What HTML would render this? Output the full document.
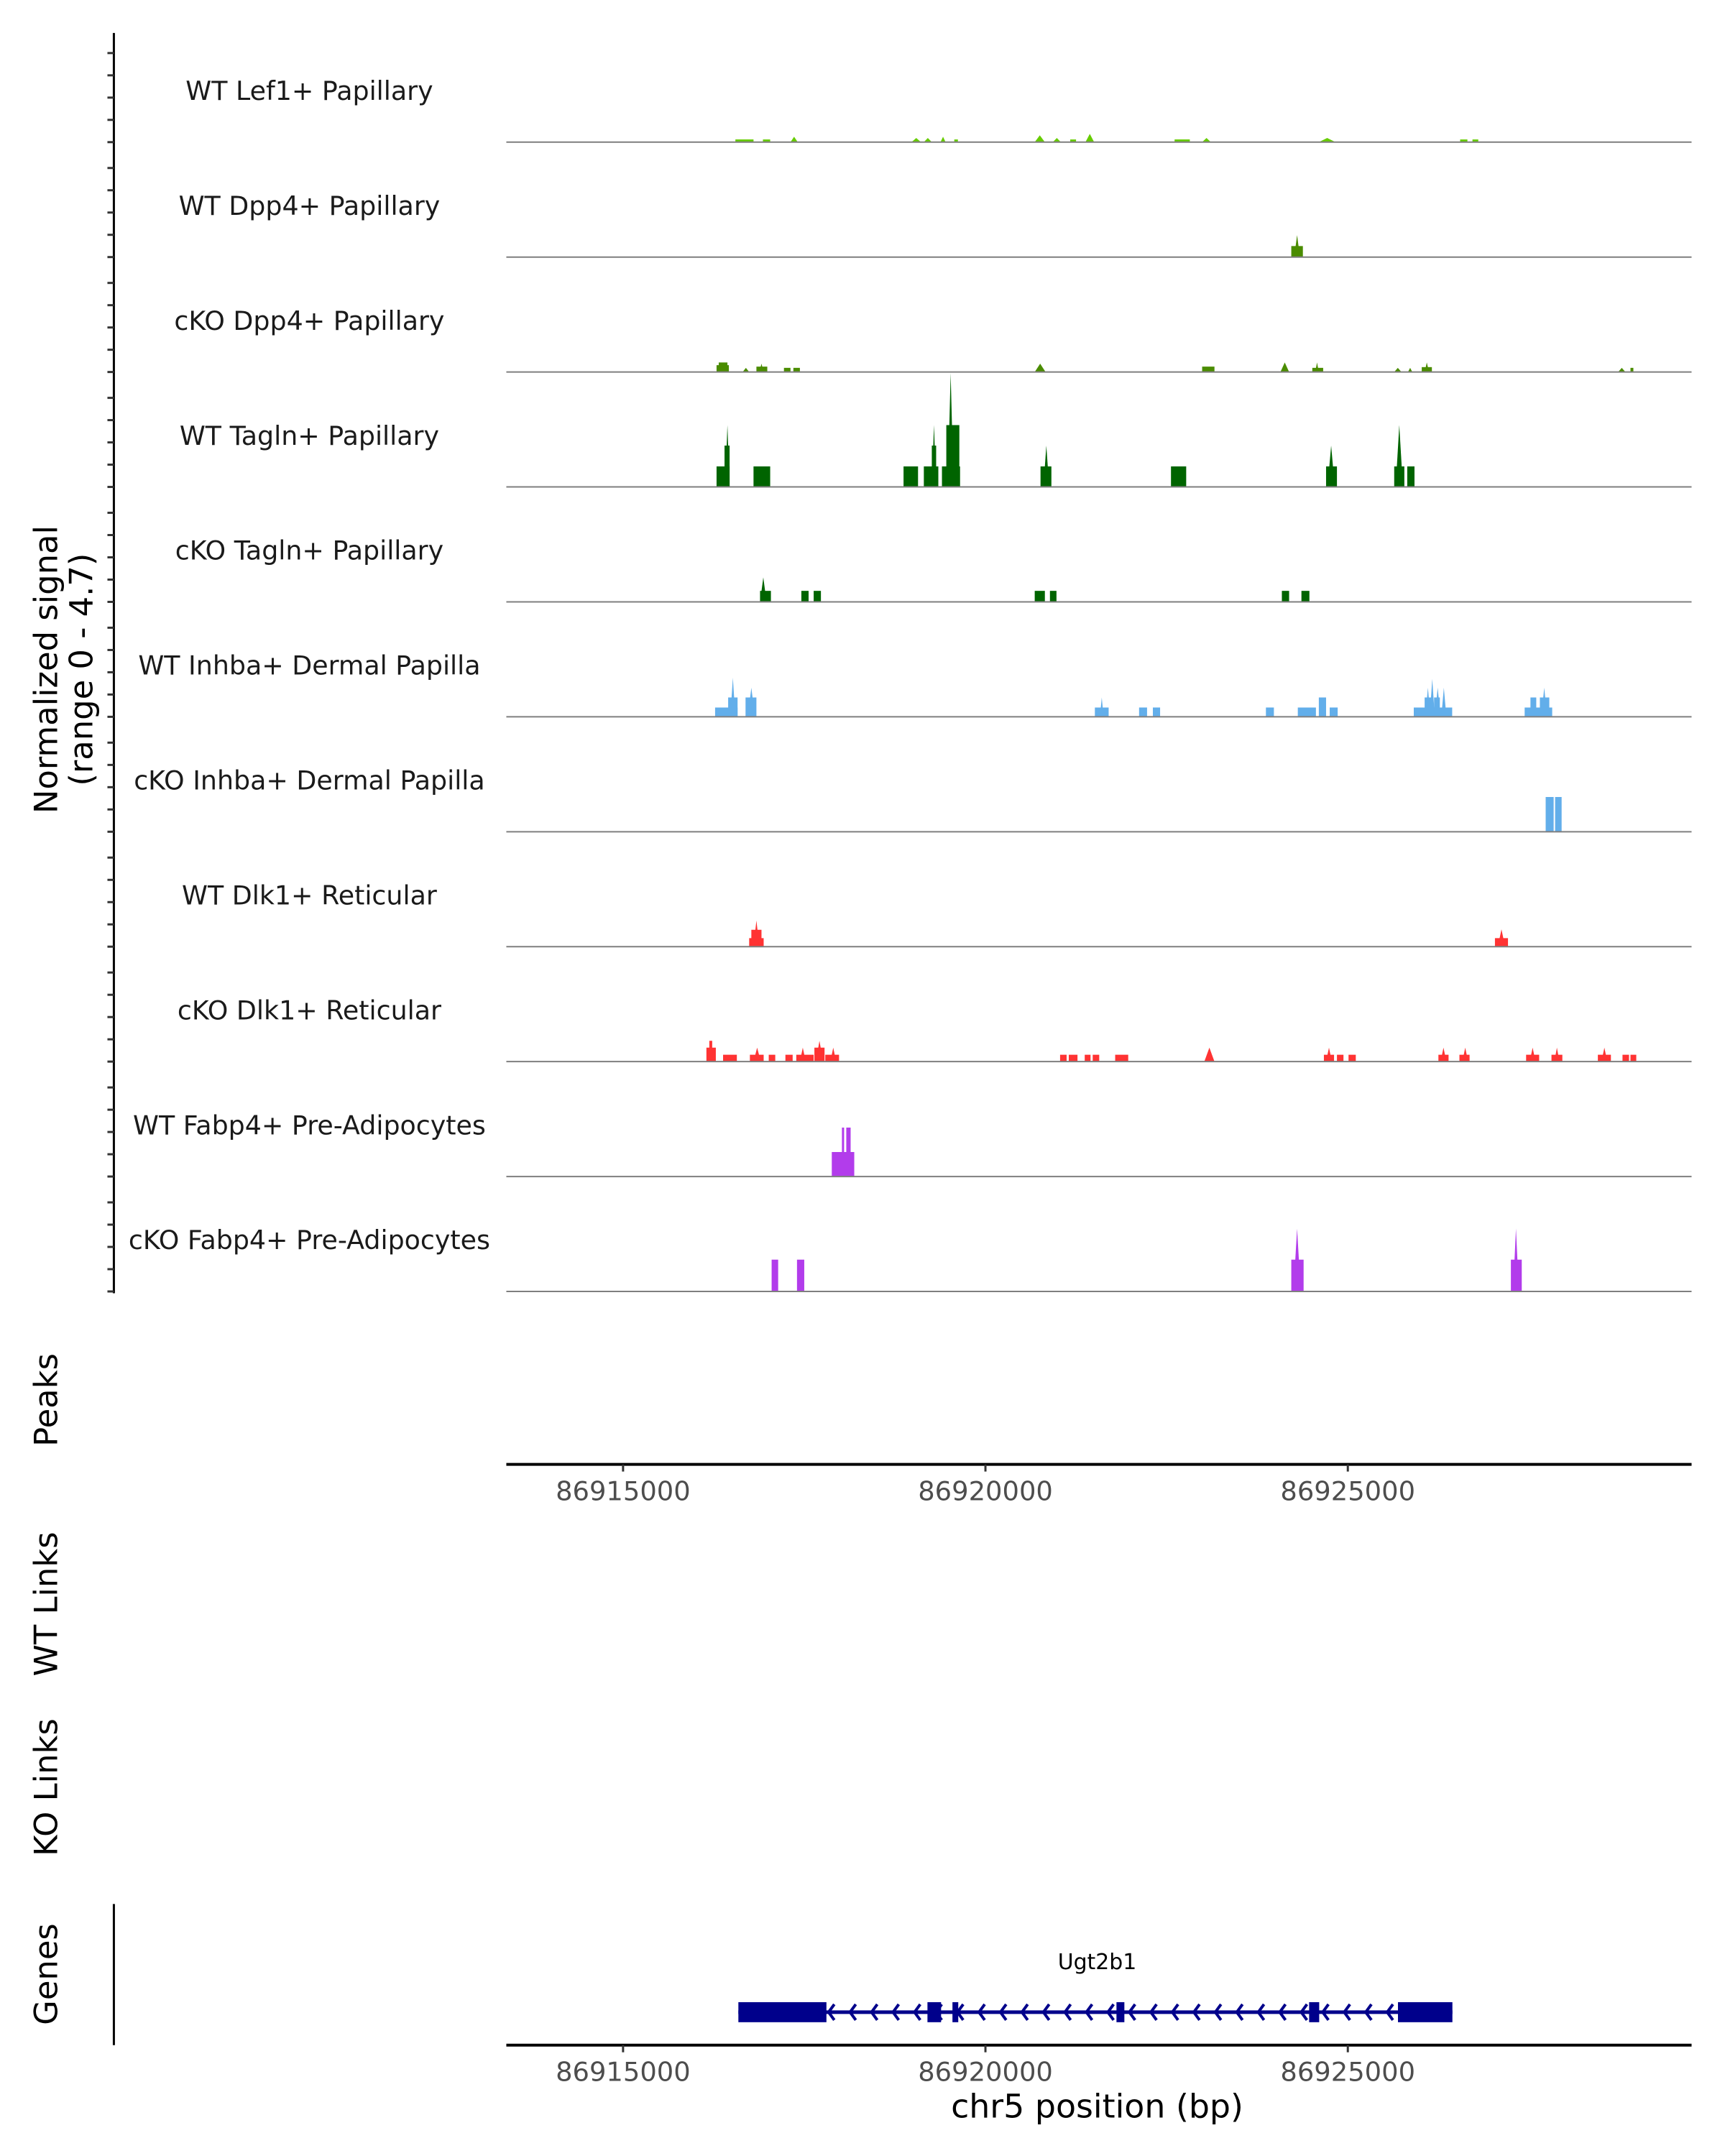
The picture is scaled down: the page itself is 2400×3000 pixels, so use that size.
<!DOCTYPE html>
<html><head><meta charset="utf-8"><style>
body{margin:0;background:#fff}
svg{display:block}
text{font-family:"DejaVu Sans","Liberation Sans",sans-serif}
</style></head><body>
<svg id="chart" width="2400" height="3000" viewBox="0 0 2400 3000" xmlns="http://www.w3.org/2000/svg">
<g transform="scale(0.9964)">
<g id="tracks"></g>
<line x1="159" y1="46" x2="159" y2="1806" stroke="#000" stroke-width="3"/>
<g id="yticks"></g>
<text transform="translate(80,935) rotate(-90)" text-anchor="middle" font-size="45">Normalized signal</text>
<text transform="translate(129,935) rotate(-90)" text-anchor="middle" font-size="45">(range 0 - 4.7)</text>
<text transform="translate(80,1955) rotate(-90)" text-anchor="middle" font-size="45">Peaks</text>
<text transform="translate(80,2240) rotate(-90)" text-anchor="middle" font-size="45">WT Links</text>
<text transform="translate(80,2496) rotate(-90)" text-anchor="middle" font-size="45">KO Links</text>
<text transform="translate(80,2757) rotate(-90)" text-anchor="middle" font-size="45">Genes</text>
<line x1="159" y1="2659" x2="159" y2="2856" stroke="#000" stroke-width="3"/>
<g id="xaxes"></g>
<g id="gene"></g>
<text x="1532" y="2750" text-anchor="middle" font-size="30">Ugt2b1</text>
<text x="1532" y="2957" text-anchor="middle" font-size="46">chr5 position (bp)</text>
</g>
</svg>
<script>
// genomic offsets in kb relative to 86910000
const OFFSET = 86910000;
const trackNames = ["WT Lef1+ Papillary","WT Dpp4+ Papillary","cKO Dpp4+ Papillary","WT Tagln+ Papillary","cKO Tagln+ Papillary","WT Inhba+ Dermal Papilla","cKO Inhba+ Dermal Papilla","WT Dlk1+ Reticular","cKO Dlk1+ Reticular","WT Fabp4+ Pre-Adipocytes","cKO Fabp4+ Pre-Adipocytes"];
const trackColors = ["#66cc00","#4a8c00","#4a8c00","#006400","#006400","#62aeea","#62aeea","#ff3333","#ff3333","#b23ceb","#b23ceb"];
// peaks: [startKb, endKb, height, shape(0 rect,1 triangle)]
const lef1WT = [[6.55,6.80,0.11,0],[6.93,7.03,0.11,0],[7.31,7.41,0.22,1],[8.98,9.11,0.17,1],[9.15,9.26,0.17,1],[9.38,9.45,0.22,1],[9.57,9.62,0.11,0],[10.68,10.82,0.28,1],[10.93,11.04,0.17,1],[11.17,11.25,0.11,0],[11.38,11.50,0.34,1],[12.61,12.82,0.11,0],[12.99,13.11,0.17,1],[14.60,14.83,0.17,1],[16.55,16.65,0.11,0],[16.72,16.80,0.11,0]];
const dpp4WT = [[14.22,14.38,0.45,0],[14.26,14.34,0.9,1]];
const dpp4KO = [[6.29,6.46,0.28,0],[6.32,6.44,0.39,0],[6.65,6.74,0.17,1],[6.84,6.99,0.22,0],[6.88,6.94,0.34,1],[7.22,7.31,0.17,0],[7.35,7.44,0.17,0],[10.68,10.83,0.34,1],[12.99,13.16,0.22,0],[14.07,14.19,0.39,1],[14.51,14.66,0.17,0],[14.55,14.60,0.39,1],[15.64,15.74,0.17,1],[15.83,15.89,0.17,1],[16.02,16.16,0.2,0],[16.06,16.12,0.39,1],[18.73,18.83,0.17,1],[18.90,18.94,0.17,0]];
const taglnWT = [[6.29,6.47,0.84,0],[6.40,6.47,1.69,0],[6.41,6.47,2.53,1],[6.80,7.03,0.84,0],[8.87,9.07,0.84,0],[9.15,9.35,0.84,0],[9.26,9.32,1.69,0],[9.26,9.32,2.53,1],[9.40,9.65,0.84,0],[9.46,9.64,2.53,0],[9.48,9.56,4.65,1],[10.76,10.91,0.84,0],[10.80,10.88,1.69,1],[12.56,12.77,0.84,0],[14.70,14.85,0.84,0],[14.72,14.82,1.69,1],[15.64,15.78,0.84,0],[15.66,15.76,2.53,1],[15.82,15.92,0.84,0]];
const taglnKO = [[6.89,7.04,0.45,0],[6.89,6.98,1.0,1],[7.46,7.56,0.45,0],[7.63,7.73,0.45,0],[10.68,10.82,0.45,0],[10.89,10.98,0.45,0],[14.09,14.19,0.45,0],[14.36,14.47,0.45,0]];
const inhbaWT = [[6.27,6.58,0.38,0],[6.45,6.58,0.79,0],[6.48,6.55,1.6,1],[6.69,6.84,0.79,0],[6.72,6.82,1.19,1],[11.51,11.70,0.38,0],[11.58,11.63,0.79,1],[12.12,12.23,0.38,0],[12.31,12.41,0.38,0],[13.87,13.98,0.38,0],[14.31,14.56,0.38,0],[14.60,14.70,0.79,0],[14.75,14.86,0.38,0],[15.91,16.44,0.38,0],[16.06,16.15,0.79,0],[16.07,16.14,1.19,1],[16.13,16.20,1.55,1],[16.19,16.27,0.79,0],[16.20,16.28,1.19,1],[16.29,16.36,1.19,1],[17.44,17.82,0.38,0],[17.52,17.60,0.79,0],[17.65,17.78,0.79,0],[17.67,17.75,1.19,1]];
const inhbaKO = [[17.73,17.84,1.42,0],[17.86,17.95,1.42,0]];
const dlk1WT = [[6.74,6.94,0.35,0],[6.77,6.91,0.69,0],[6.80,6.88,1.07,1],[17.03,17.21,0.35,0],[17.07,17.17,0.71,1]];
const dlk1KO = [[6.15,6.28,0.57,0],[6.19,6.23,0.85,0],[6.38,6.57,0.28,0],[6.75,6.94,0.28,0],[6.80,6.90,0.57,1],[7.01,7.10,0.28,0],[7.24,7.34,0.28,0],[7.39,7.63,0.28,0],[7.44,7.52,0.57,1],[7.64,7.78,0.57,0],[7.66,7.76,0.85,1],[7.79,7.98,0.28,0],[7.86,7.94,0.57,1],[11.03,11.12,0.28,0],[11.15,11.27,0.28,0],[11.37,11.45,0.28,0],[11.48,11.57,0.28,0],[11.79,11.97,0.28,0],[13.02,13.16,0.57,1],[14.67,14.81,0.28,0],[14.70,14.78,0.57,1],[14.85,14.94,0.28,0],[15.01,15.11,0.28,0],[16.25,16.39,0.28,0],[16.28,16.36,0.57,1],[16.54,16.68,0.28,0],[16.58,16.66,0.57,1],[17.46,17.64,0.28,0],[17.51,17.59,0.57,1],[17.81,17.96,0.28,0],[17.85,17.92,0.57,1],[18.45,18.63,0.28,0],[18.50,18.58,0.57,1],[18.79,18.88,0.28,0],[18.90,18.98,0.28,0]];
const fabp4WT = [[7.88,8.19,1.0,0],[8.02,8.05,2.0,0],[8.08,8.14,2.0,0]];
const fabp4KO = [[7.05,7.14,1.3,0],[7.40,7.50,1.3,0],[14.22,14.39,1.3,0],[14.25,14.35,2.57,1],[17.25,17.40,1.3,0],[17.28,17.36,2.57,1]];
const trackPeaks = [lef1WT,dpp4WT,dpp4KO,taglnWT,taglnKO,inhbaWT,inhbaKO,dlk1WT,dlk1KO,fabp4WT,fabp4KO];
const xTicks = [86915000,86920000,86925000];
const yMax = 4.7;
const geneExons = [[6.591,7.806],[9.200,9.388],[9.545,9.625],[11.808,11.917],[14.466,14.605],[15.692,16.443]];

const NS="http://www.w3.org/2000/svg";
const PX_PER_KB = 101.2;
const xs = kb => 870 + (kb-5)*PX_PER_KB;
const xsBp = bp => xs((bp-OFFSET)/1000);
const L=707, R=2362, TOP0=38, TH=160.5;
function mk(tag, attrs, parent){const e=document.createElementNS(NS,tag);for(const k in attrs)e.setAttribute(k,attrs[k]);parent.appendChild(e);return e;}
const tracks=document.getElementById('tracks');
const yticks=document.getElementById('yticks');
trackNames.forEach((name,i)=>{
  const base = TOP0 + TH*(i+1);
  const ys = v => base - v/yMax*TH;
  const g=mk('g',{},tracks);
  
  
  const t=mk('text',{x:432,y:base-59,'text-anchor':'middle','font-size':36.5,fill:'#1a1a1a'},g);
  
  
  t.textContent=name;
  trackPeaks[i].forEach(p=>{
    const x0=xs(p[0]),x1=xs(p[1]),y=ys(p[2]);
    const pts = p[3]===1 ? `${x0},${base} ${(x0+x1)/2},${y} ${x1},${base}` : `${x0},${base} ${x0},${y} ${x1},${y} ${x1},${base}`;
    const pg=mk('polygon',{points:pts,fill:trackColors[i]},g);
    
    
  });
  const bl=mk('line',{x1:L,x2:R,y1:base,y2:base,stroke:'#7f7f7f','stroke-width':2},g);
  
  
  for(let k=0;k<5;k++){
    const yy=base-k*31.1;
    const tk=mk('line',{x1:150,x2:159,y1:yy,y2:yy,stroke:'#333','stroke-width':3},yticks);
    
    
  }
});
const xa=document.getElementById('xaxes');
[[2045,'peaks-x-axis'],[2856,'genes-x-axis']].forEach(([y,nm])=>{
  const ln=mk('line',{x1:L,x2:R,y1:y,y2:y,stroke:'#000','stroke-width':4},xa);
  
  
  xTicks.forEach(v=>{
    const x=xsBp(v);
    const tk=mk('line',{x1:x,x2:x,y1:y,y2:y+10,stroke:'#333','stroke-width':3},xa);
    
    
    const tl=mk('text',{x:x,y:y+50,'text-anchor':'middle','font-size':37,fill:'#4d4d4d'},xa);
    
    
    tl.textContent=v;
  });
});
const gg=document.getElementById('gene');
const gy=2810;
const gx0=xs(geneExons[0][0]), gx1=xs(geneExons[geneExons.length-1][1]);
const gl=mk('line',{x1:gx0,x2:gx1,y1:gy,y2:gy,stroke:'#00008b','stroke-width':5},gg);


for(let cx=xs(geneExons[0][1])+6; cx<gx1; cx+=30){
  const c=mk('polyline',{points:`${cx+5},${gy-11} ${cx-3},${gy} ${cx+5},${gy+11}`,fill:'none',stroke:'#00008b','stroke-width':4},gg);
  
  
}
geneExons.forEach(e=>{
  const r=mk('rect',{x:xs(e[0]),y:gy-14,width:xs(e[1])-xs(e[0]),height:28,fill:'#00008b'},gg);
  
  
});
</script>
</body></html>
